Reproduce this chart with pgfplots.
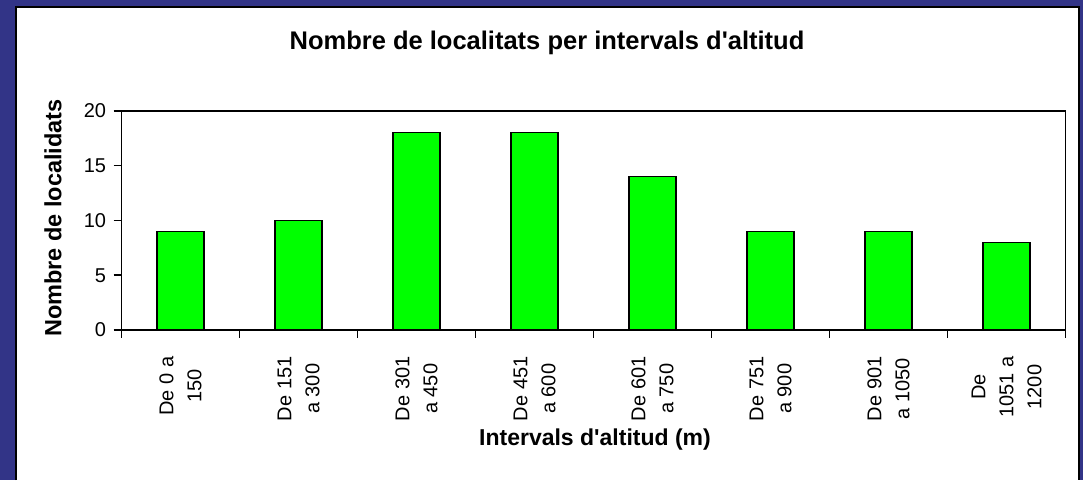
\documentclass[border=0pt]{standalone}
\usepackage{pgfplots}
\pgfplotsset{compat=1.18}
\usepackage{fontspec}
\setmainfont{Liberation Sans}
\newfontfamily\arialfont{Liberation Sans}
\definecolor{frame}{RGB}{50,52,135}
\definecolor{bargreen}{RGB}{0,255,0}

\begin{document}
\begin{tikzpicture}[x=1pt,y=1pt]
\useasboundingbox (0,0) rectangle (1083,480);
% outer frame and white panel
\fill[frame] (0,0) rectangle (1083,480);
\fill[white] (16,0) rectangle (1079,473);
\draw[line width=2pt,black] (16,0) -- (16,473) -- (1079,473) -- (1079,0);

\node[anchor=base,font=\arialfont\fontsize{25.5}{30}\selectfont\bfseries] at (547,430)
  {Nombre de localitats per intervals d'altitud};
\node[rotate=90,font=\arialfont\fontsize{23.5}{27}\selectfont\bfseries] at (53,262)
  {Nombre de localidats};
\node[font=\arialfont\fontsize{23}{27}\selectfont\bfseries] at (595,40)
  {Intervals d'altitud (m)};

% the anchor lands a little off, so the corner is asked for lower-left
\begin{axis}[
  at={(103,137)}, anchor=south west,
  scale only axis, width=944pt, height=219pt,
  xmin=-0.5, xmax=7.5, ymin=0, ymax=20,
  axis line style={line width=1.5pt},
  tick style={line width=1.5pt,black},
  tick align=outside,
  xtick pos=bottom, ytick pos=left,
  xtick={0,...,7},
  xticklabels={{De 0 a\\150},{De 151\\a 300},{De 301\\a 450},{De 451\\a 600},
    {De 601\\a 750},{De 751\\a 900},{De 901\\a 1050},{De\\1051 a\\1200}},
  major x tick style={draw=none},
  minor xtick={-0.5,0.5,...,7.5},
  minor tick length=8pt,
  ytick={0,5,10,15,20},
  yticklabels={0,5,10,15,20},
  major tick length=8pt,
  /pgf/number format/assume math mode=true,
  xticklabel style={rotate=90,anchor=east,align=center,
    font=\arialfont\fontsize{20}{28}\selectfont,xshift=-15pt},
  yticklabel style={font=\arialfont\fontsize{20}{24}\selectfont,xshift=-4pt},
]
\addplot[ybar, bar width=47pt, fill=bargreen, draw=black, line width=1.2pt]
  coordinates {(0,9)(1,10)(2,18)(3,18)(4,14)(5,9)(6,9)(7,8)};
\end{axis}
\end{tikzpicture}
\end{document}
